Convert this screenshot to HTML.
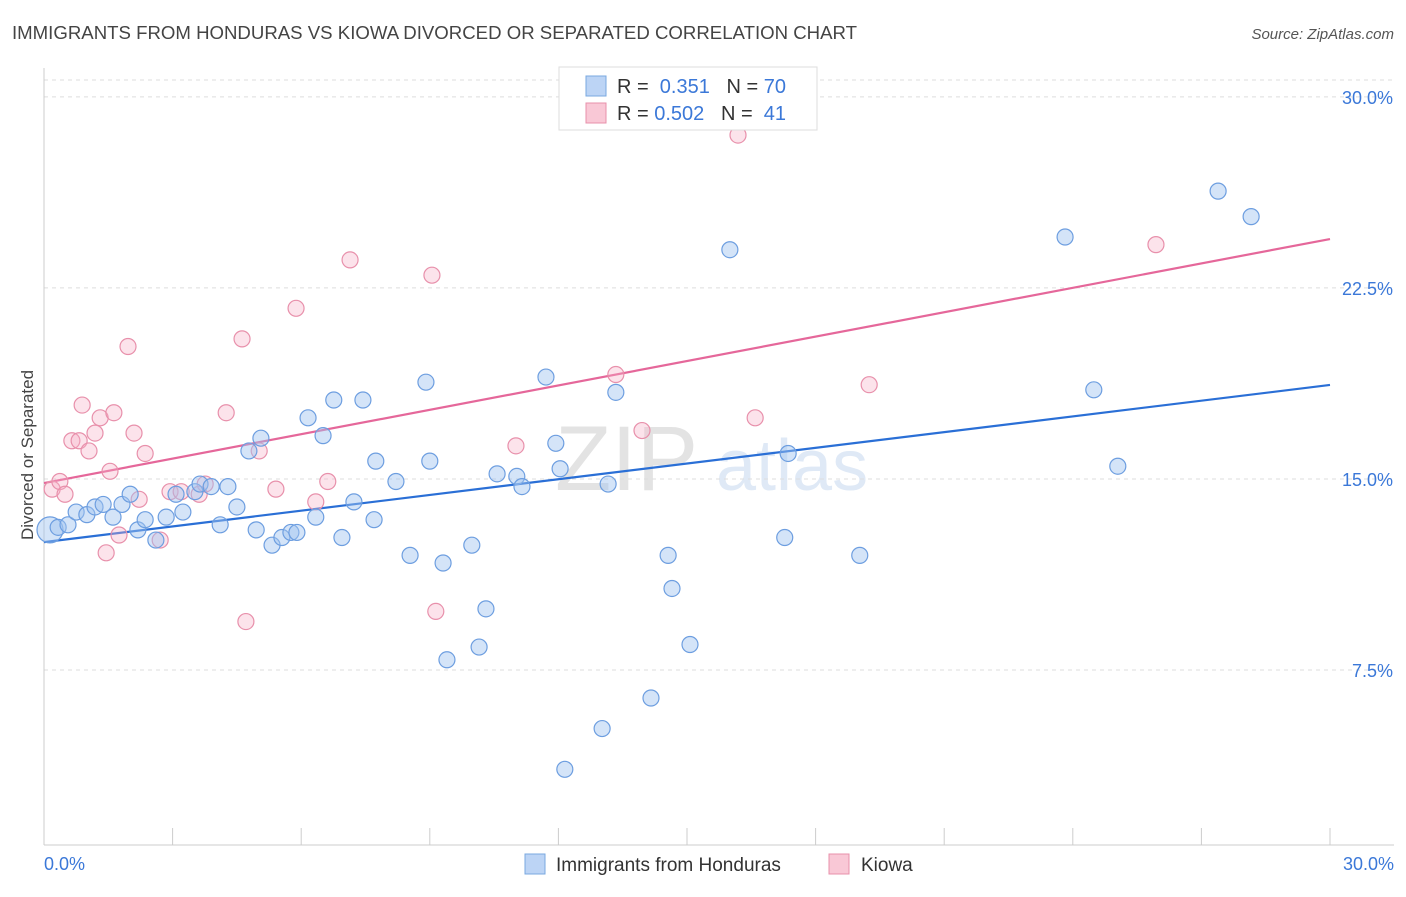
<!DOCTYPE html>
<html><head><meta charset="utf-8"><style>
body{margin:0;background:#fff;font-family:"Liberation Sans",sans-serif;}
svg text{font-family:"Liberation Sans",sans-serif;}
</style></head><body>
<svg id="chart" width="1406" height="892">
<text x="12" y="39" font-size="18" fill="#444" textLength="845" lengthAdjust="spacingAndGlyphs">IMMIGRANTS FROM HONDURAS VS KIOWA DIVORCED OR SEPARATED CORRELATION CHART</text>
<text x="1394" y="39" font-size="15" fill="#555" font-style="italic" text-anchor="end">Source: ZipAtlas.com</text>
<text x="0" y="0" transform="translate(33,455) rotate(-90)" font-size="17" fill="#444" text-anchor="middle">Divorced or Separated</text>
<g><text x="555" y="490" font-size="92" fill="#e3e3e3" font-family="Liberation Serif">ZIP</text><text x="716" y="490" font-size="72" fill="#dfe9f6">atlas</text></g>
<g id="grid"></g><g id="axes"></g><g id="lines"></g><g id="pts"></g>
<g>
<rect x="559" y="67" width="258" height="63" fill="#fff" stroke="#ddd"/>
<rect x="586" y="76" width="20" height="20" fill="#bcd4f5" stroke="#7aa8e0"/>
<rect x="586" y="103" width="20" height="20" fill="#f9c8d6" stroke="#e890ab"/>
<text x="617" y="93" font-size="20" fill="#333">R = <tspan fill="#3b78d8">&#160;0.351</tspan>&#160;&#160;&#160;N = <tspan fill="#3b78d8">70</tspan></text>
<text x="617" y="120" font-size="20" fill="#333">R = <tspan fill="#3b78d8">0.502</tspan>&#160;&#160;&#160;N = <tspan fill="#3b78d8">&#160;41</tspan></text>
</g>
<g>
<rect x="525" y="854" width="20" height="20" fill="#bcd4f5" stroke="#7aa8e0"/>
<text x="556" y="871" font-size="19" fill="#333">Immigrants from Honduras</text>
<rect x="829" y="854" width="20" height="20" fill="#f9c8d6" stroke="#e890ab"/>
<text x="861" y="871" font-size="19" fill="#333">Kiowa</text>
</g>
</svg>
<script>
const yTicks=[7.5,15,22.5,30];
const yTickLabels=["7.5%","15.0%","22.5%","30.0%"];
const xTickLabels=["0.0%","30.0%"];
const blueX=[0.14,0.33,0.56,0.75,1.0,1.19,1.38,1.61,1.82,2.01,2.19,2.36,2.61,2.85,3.08,3.24,3.52,3.64,3.9,4.11,4.29,4.5,4.78,4.95,5.06,5.32,5.55,5.76,5.9,6.16,6.34,6.51,6.76,6.95,7.23,7.44,7.7,7.74,8.21,8.54,8.91,9.0,9.31,9.4,9.98,10.15,10.31,10.57,11.03,11.15,11.71,11.94,12.04,12.15,13.02,13.16,13.34,14.16,14.56,14.65,15.07,16.0,17.28,17.36,19.03,23.82,24.49,25.05,27.39,28.16];
const blueY=[13.0,13.1,13.2,13.7,13.6,13.9,14.0,13.5,14.0,14.4,13.0,13.4,12.6,13.5,14.4,13.7,14.5,14.8,14.7,13.2,14.7,13.9,16.1,13.0,16.6,12.4,12.7,12.9,12.9,17.4,13.5,16.7,18.1,12.7,14.1,18.1,13.4,15.7,14.9,12.0,18.8,15.7,11.7,7.9,12.4,8.4,9.9,15.2,15.1,14.7,19.0,16.4,15.4,3.6,5.2,14.8,18.4,6.4,12.0,10.7,8.5,24.0,12.7,16.0,12.0,24.5,18.5,15.5,26.3,25.3];
const pinkX=[0.19,0.37,0.49,0.65,0.82,0.89,1.05,1.19,1.31,1.45,1.54,1.63,1.75,1.96,2.1,2.22,2.36,2.71,2.94,3.2,3.62,3.76,4.25,4.62,4.71,5.02,5.41,5.88,6.34,6.62,7.14,9.05,9.14,11.01,13.34,13.95,16.19,16.59,19.25,25.94];
const pinkY=[14.6,14.9,14.4,16.5,16.5,17.9,16.1,16.8,17.4,12.1,15.3,17.6,12.8,20.2,16.8,14.2,16.0,12.6,14.5,14.5,14.4,14.8,17.6,20.5,9.4,16.1,14.6,21.7,14.1,14.9,23.6,23.0,9.8,16.3,19.1,16.9,28.5,17.4,18.7,24.2];
const blueTrend=[12.52,18.69];
const pinkTrend=[14.84,24.42];
const NS="http://www.w3.org/2000/svg";
const X=v=>44+v/30*1286, Y=v=>861-v*25.47;
function mk(p,t,a){const e=document.createElementNS(NS,t);for(const k in a)e.setAttribute(k,a[k]);document.getElementById(p).appendChild(e);return e;}
yTicks.forEach((t,i)=>{
 const l=mk('grid','line',{x1:44,x2:1394,y1:Y(t),y2:Y(t),stroke:'#ddd','stroke-dasharray':'4,4'});
 
 
 const tx=mk('grid','text',{x:1393,y:Y(t)+7,'font-size':18,fill:'#3b78d8','text-anchor':'end'});
 tx.textContent=yTickLabels[i];
 
 
});
const topLine=mk('grid','line',{x1:44,x2:1394,y1:80,y2:80,stroke:'#ddd','stroke-dasharray':'4,4'});


const ya=mk('axes','line',{x1:44,x2:44,y1:68,y2:845,stroke:'#ccc'});


const xa=mk('axes','line',{x1:44,x2:1394,y1:845,y2:845,stroke:'#ccc'});


for(let i=0;i<=10;i++){const t=mk('axes','line',{x1:X(i*3),x2:X(i*3),y1:828,y2:845,stroke:'#ccc'});
 
 }
const xl0=mk('axes','text',{x:44,y:870,'font-size':18,fill:'#3b78d8'});xl0.textContent=xTickLabels[0];


const xl1=mk('axes','text',{x:1394,y:870,'font-size':18,fill:'#3b78d8','text-anchor':'end'});xl1.textContent=xTickLabels[1];


function pts(xs,ys,fill,stroke,name){xs.forEach((x,i)=>{
 const c=mk('pts','circle',{cx:X(x),cy:Y(ys[i]),r:(name==='honduras-point'&&i===0)?13:8,fill:fill,stroke:stroke,'stroke-width':1.2});
 
 
});}
pts(pinkX,pinkY,'rgba(245,175,198,0.35)','#e890ab','kiowa-point');
pts(blueX,blueY,'rgba(160,195,240,0.45)','#6d9ee0','honduras-point');
const bl=mk('lines','line',{x1:X(0),y1:Y(blueTrend[0]),x2:X(30),y2:Y(blueTrend[1]),stroke:'#2a6fd6','stroke-width':2.2});


const pl=mk('lines','line',{x1:X(0),y1:Y(pinkTrend[0]),x2:X(30),y2:Y(pinkTrend[1]),stroke:'#e5679a','stroke-width':2.2});


</script>
</body></html>
